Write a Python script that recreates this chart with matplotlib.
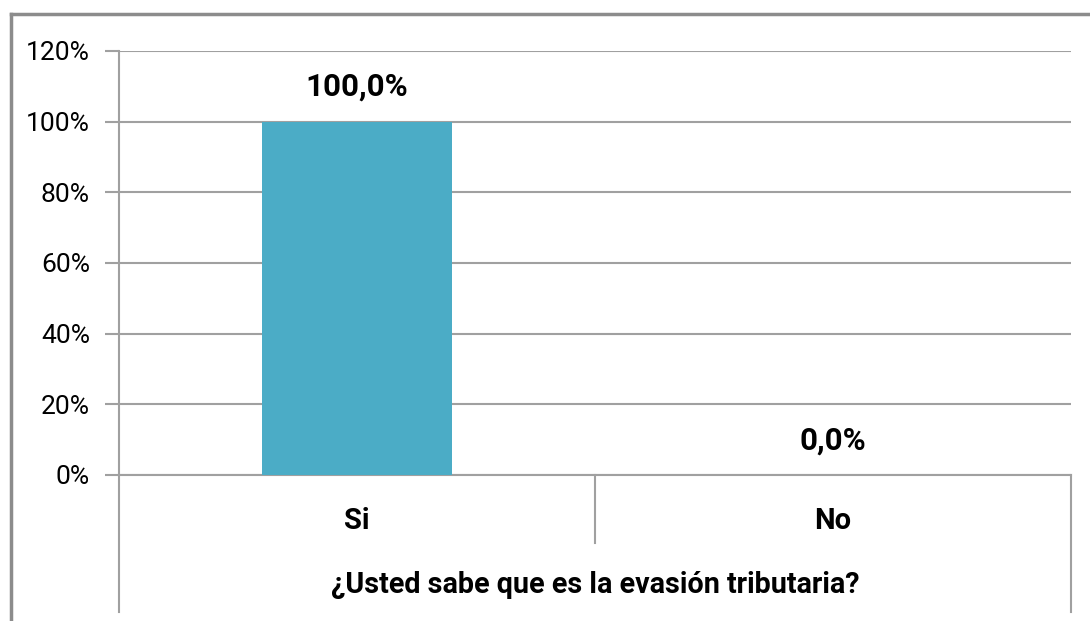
import matplotlib.pyplot as plt
from matplotlib.lines import Line2D
from matplotlib.ticker import FuncFormatter

categorias = ['Si', 'No']
valores = [1.0, 0.0]
etiquetas = ['100,0%', '0,0%']
titulo_eje = '¿Usted sabe que es la evasión tributaria?'
ticks_y = [0, 0.2, 0.4, 0.6, 0.8, 1.0, 1.2]

plt.rcParams['font.family'] = ['Roboto', 'DejaVu Sans']
gris = '#a0a0a0'

fig = plt.figure(figsize=(10.9, 6.21), dpi=100)
ax = fig.add_axes([119 / 1090, 1 - 475 / 621, (1071 - 119) / 1090, (475 - 51) / 621])

x = list(range(len(categorias)))
ax.bar(x, valores, width=0.4, color='#4bacc6', zorder=3)

ax.set_xlim(-0.5, len(categorias) - 0.5)
ax.set_ylim(0, 1.2)
ax.set_yticks(ticks_y)
ax.yaxis.set_major_formatter(FuncFormatter(lambda v, p: '%d%%' % round(v * 100)))
ax.set_xticks([])
ax.grid(axis='y', color=gris, linewidth=1.5, zorder=0)
ax.tick_params(axis='y', length=10, width=1.5, color=gris, pad=11, labelsize=19)

for s in ['top', 'right']:
    ax.spines[s].set_visible(False)
for s in ['left', 'bottom']:
    ax.spines[s].set_color(gris)
    ax.spines[s].set_linewidth(1.5)

for i, v in enumerate(valores):
    ax.annotate(etiquetas[i], (x[i], v), xytext=(0, 25), textcoords='offset points',
                ha='center', va='center', fontsize=22.5, fontweight='bold')

trans = ax.get_xaxis_transform()
for i, c in enumerate(categorias):
    ax.text(x[i], -0.108, c, transform=trans, ha='center', va='center',
            fontsize=21, fontweight='bold')
ax.text((len(categorias) - 1) / 2, -0.259, titulo_eje, transform=trans,
        ha='center', va='center', fontsize=20.7, fontweight='bold')

# lineas del eje de categorias
ax.plot([-0.5, -0.5], [0, -0.323], transform=trans, color=gris, lw=1.5, clip_on=False)
ax.plot([1.5, 1.5], [0, -0.323], transform=trans, color=gris, lw=1.5, clip_on=False)
ax.plot([0.5, 0.5], [0, -0.160], transform=trans, color=gris, lw=1.5, clip_on=False)

# borde del grafico
borde = '#8c8c8c'
fig.add_artist(Line2D([11 / 1090, 11 / 1090], [0, 1 - 14 / 621], color=borde, lw=2.5))
fig.add_artist(Line2D([11 / 1090, 1], [1 - 14 / 621, 1 - 14 / 621], color=borde, lw=2.5))

fig.savefig('out.png', dpi=100)
